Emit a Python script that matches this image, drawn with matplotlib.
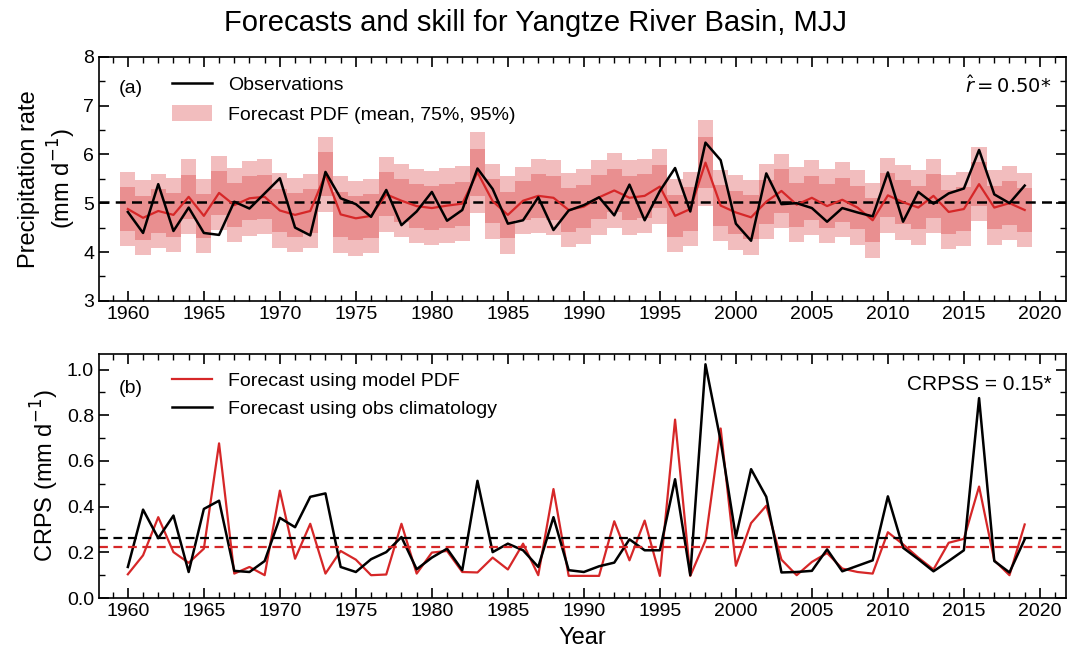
import numpy as np
import matplotlib
matplotlib.use('Agg')
import matplotlib.pyplot as plt
from matplotlib.ticker import MultipleLocator
from matplotlib.patches import Patch
from matplotlib.lines import Line2D

plt.rcParams['font.family'] = ['Liberation Sans', 'DejaVu Sans']
plt.rcParams['mathtext.fontset'] = 'dejavusans'

years = np.arange(1960, 2020)

# observed MJJ precipitation (mm/day)
obs = [4.82, 4.39, 5.39, 4.43, 4.91, 4.39, 4.35, 5.03, 4.89, 5.20,
       5.51, 4.50, 4.34, 5.64, 5.10, 4.98, 4.72, 5.27, 4.55, 4.83,
       5.23, 4.64, 4.86, 5.71, 5.29, 4.58, 4.65, 5.12, 4.45, 4.85,
       4.96, 5.12, 4.75, 5.38, 4.65, 5.25, 5.72, 4.83, 6.24, 5.88,
       4.58, 4.23, 5.61, 4.98, 5.00, 4.90, 4.62, 4.90, 4.81, 4.73,
       5.63, 4.62, 5.23, 4.99, 5.20, 5.30, 6.09, 5.18, 5.00, 5.36]

# forecast PDF: mean and standard deviation
fc_mean = [4.88, 4.70, 4.84, 4.76, 5.13, 4.74, 5.21, 4.96, 5.10, 5.13,
           4.85, 4.76, 4.84, 5.59, 4.77, 4.69, 4.74, 5.18, 5.05, 4.94,
           4.90, 4.95, 4.99, 5.63, 5.04, 4.76, 5.05, 5.15, 5.11, 4.86,
           4.93, 5.12, 5.26, 5.11, 5.15, 5.34, 4.74, 4.88, 5.83, 4.95,
           4.81, 4.71, 5.03, 5.25, 4.97, 5.11, 4.94, 5.07, 4.91, 4.65,
           5.16, 5.02, 4.91, 5.15, 4.82, 4.88, 5.39, 4.91, 5.00, 4.86]
fc_sd = [0.39, 0.39, 0.39, 0.39, 0.39, 0.39, 0.39, 0.39, 0.39, 0.39,
         0.39, 0.39, 0.39, 0.39, 0.40, 0.39, 0.39, 0.39, 0.38, 0.39,
         0.39, 0.39, 0.39, 0.42, 0.39, 0.41, 0.35, 0.39, 0.39, 0.39,
         0.39, 0.39, 0.39, 0.39, 0.39, 0.39, 0.38, 0.39, 0.45, 0.37,
         0.39, 0.39, 0.39, 0.39, 0.39, 0.39, 0.39, 0.39, 0.39, 0.39,
         0.39, 0.39, 0.39, 0.39, 0.39, 0.39, 0.39, 0.39, 0.39, 0.39]
obs_clim = 5.02
r_hat = 0.50

# CRPS per year
crps_model = [0.104, 0.187, 0.354, 0.201, 0.154, 0.216, 0.677, 0.107, 0.136, 0.100,
              0.470, 0.172, 0.325, 0.107, 0.206, 0.168, 0.100, 0.103, 0.325, 0.107,
              0.199, 0.206, 0.114, 0.112, 0.177, 0.125, 0.238, 0.100, 0.477, 0.097,
              0.097, 0.097, 0.336, 0.165, 0.339, 0.097, 0.781, 0.097, 0.252, 0.742,
              0.141, 0.328, 0.404, 0.168, 0.100, 0.158, 0.197, 0.129, 0.114, 0.107,
              0.288, 0.235, 0.177, 0.125, 0.242, 0.259, 0.488, 0.165, 0.100, 0.322]
crps_clim = [0.136, 0.387, 0.262, 0.361, 0.114, 0.390, 0.426, 0.119, 0.114, 0.162,
             0.351, 0.310, 0.443, 0.458, 0.136, 0.114, 0.170, 0.201, 0.267, 0.126,
             0.177, 0.216, 0.122, 0.513, 0.201, 0.238, 0.209, 0.136, 0.354, 0.122,
             0.114, 0.139, 0.155, 0.257, 0.209, 0.209, 0.520, 0.100, 1.023, 0.687,
             0.267, 0.564, 0.443, 0.112, 0.114, 0.119, 0.213, 0.117, 0.141, 0.165,
             0.445, 0.220, 0.170, 0.117, 0.162, 0.209, 0.875, 0.162, 0.112, 0.257]
crps_model_mean = 0.222
crps_clim_mean = 0.261
crpss = 0.15

red = '#d62728'
z75, z95 = 1.150, 1.960

mean = np.array(fc_mean)
sd = np.array(fc_sd)

fig = plt.figure(figsize=(10.7, 6.59), dpi=100)
ax1 = fig.add_axes([0.0925, 0.5435, 0.9035, 0.3705])
ax2 = fig.add_axes([0.0925, 0.0925, 0.9035, 0.371])
fig.suptitle('Forecasts and skill for Yangtze River Basin, MJJ', fontsize=21, y=0.987)

# (a) forecasts
ax1.bar(years, 2 * z95 * sd, bottom=mean - z95 * sd, width=1.0,
        color=red, alpha=0.3, linewidth=0)
ax1.bar(years, 2 * z75 * sd, bottom=mean - z75 * sd, width=1.0,
        color=red, alpha=0.3, linewidth=0)
ax1.axhline(obs_clim, color='k', ls='--', lw=1.8, dashes=(4, 2.5))
ax1.plot(years, mean, color=red, lw=1.6)
ax1.plot(years, obs, color='k', lw=1.8)
ax1.set_ylim(3, 8)
ax1.set_ylabel('Precipitation rate\n(mm d$^{-1}$)', fontsize=17)
ax1.text(0.02, 0.85, '(a)', transform=ax1.transAxes, fontsize=14)
ax1.text(0.985, 0.85, r'$\hat{r} = %.2f$*' % r_hat, transform=ax1.transAxes,
         fontsize=14, ha='right', family='DejaVu Sans')
handles = [Line2D([], [], color='k', lw=1.8),
           Patch(facecolor=red, alpha=0.3, linewidth=0)]
ax1.legend(handles, ['Observations', 'Forecast PDF (mean, 75%, 95%)'],
           loc='upper left', bbox_to_anchor=(0.057, 0.995), frameon=False,
           fontsize=14, handlelength=2.1, handleheight=0.9, labelspacing=0.55)

# (b) CRPS
ax2.plot(years, crps_model, color=red, lw=1.6, label='Forecast using model PDF')
ax2.plot(years, crps_clim, color='k', lw=1.8, label='Forecast using obs climatology')
ax2.axhline(crps_clim_mean, color='k', ls='--', lw=1.6, dashes=(4, 2.5))
ax2.axhline(crps_model_mean, color=red, ls='--', lw=1.6, dashes=(4, 2.5))
ax2.set_ylim(0, 1.07)
ax2.set_ylabel('CRPS (mm d$^{-1}$)', fontsize=17)
ax2.set_xlabel('Year', fontsize=17, labelpad=5)
ax2.text(0.02, 0.84, '(b)', transform=ax2.transAxes, fontsize=14)
ax2.text(0.985, 0.85, 'CRPSS = %.2f*' % crpss, transform=ax2.transAxes,
         fontsize=15, ha='right')
ax2.legend(loc='upper left', bbox_to_anchor=(0.057, 0.995), frameon=False,
           fontsize=14, handlelength=2.1, labelspacing=0.55)

for ax in (ax1, ax2):
    ax.set_xlim(1958.1, 2021.7)
    ax.xaxis.set_major_locator(MultipleLocator(5))
    ax.xaxis.set_minor_locator(MultipleLocator(1))
    ax.tick_params(which='both', direction='in', top=True, right=True, labelsize=14)
    ax.tick_params(which='major', length=7, width=1.2)
    ax.tick_params(which='minor', length=4, width=1.0)
    for s in ax.spines.values():
        s.set_linewidth(1.2)

ax1.yaxis.set_major_locator(MultipleLocator(1))
ax1.yaxis.set_minor_locator(MultipleLocator(0.5))
ax2.yaxis.set_major_locator(MultipleLocator(0.2))
ax2.yaxis.set_minor_locator(MultipleLocator(0.1))
ax2.set_yticklabels(['%.1f' % t for t in ax2.get_yticks()])

fig.savefig('out.png', dpi=100)
